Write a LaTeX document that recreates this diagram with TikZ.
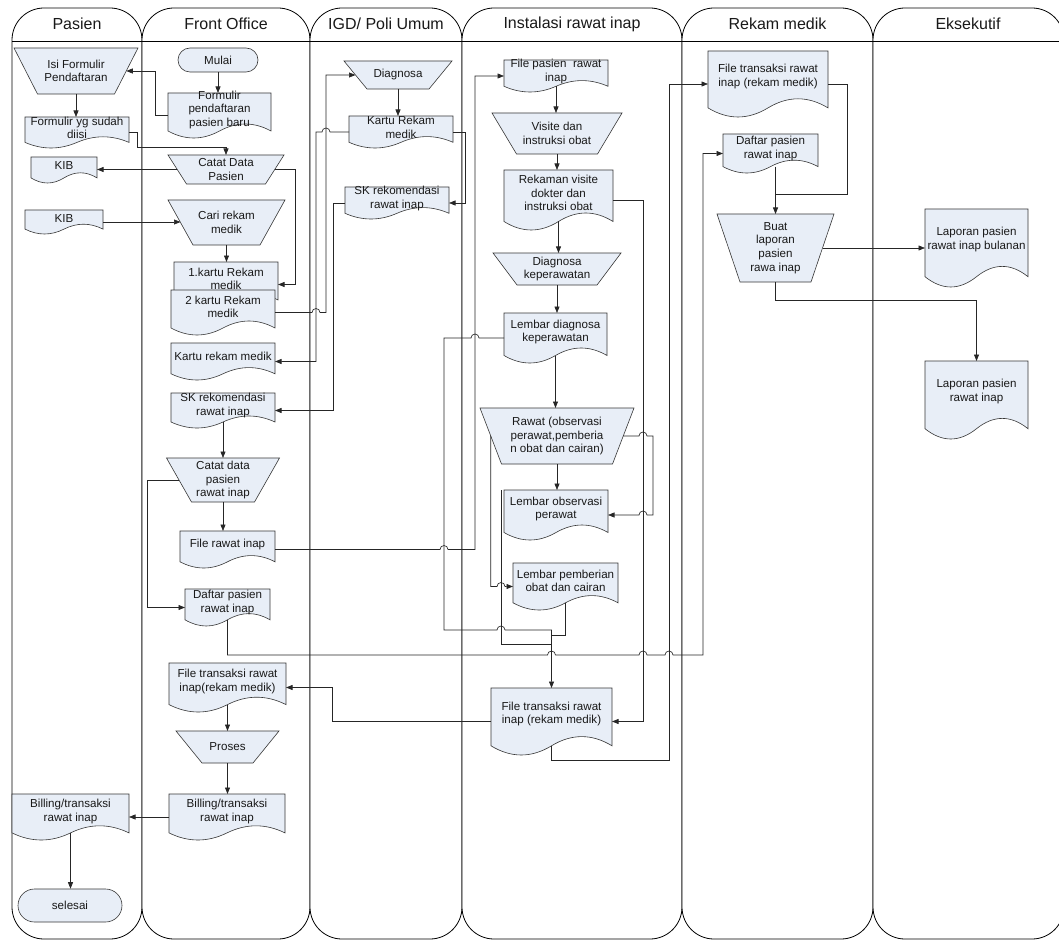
\documentclass[tikz,border=0pt]{standalone}
\usepackage{fontspec}
\setmainfont{Liberation Sans}
\usetikzlibrary{arrows.meta}
\definecolor{boxfill}{RGB}{232,238,247}
\definecolor{textcol}{RGB}{25,25,25}
\definecolor{edgecol}{RGB}{55,55,55}

\tikzset{
  lane/.style={draw=black, line width=0.8pt, fill=white, rounded corners=32pt},
  lanesep/.style={draw=black, line width=0.8pt},
  hdr/.style={font=\fontsize{16}{19}\selectfont, text=textcol},
  shapeline/.style={draw=edgecol, fill=boxfill, line width=0.6pt},
  anchorbox/.style={rectangle, draw=none, fill=none, inner sep=0pt, outer sep=0pt},
  boxtext/.style={font=\fontsize{11.6}{13.6}\selectfont, text=textcol, align=center, inner sep=0pt},
  conn/.style={draw=black!85, line width=0.65pt},
  arr/.style={conn, -{Triangle[length=6.5pt,width=5pt]}},
}

% document symbol: name, x1, y1, x2, y2 (bounding box), text
\newcommand\docnode[6]{%
  \pgfmathsetmacro\dnW{#4-#2}%
  \pgfmathsetmacro\dnH{#5-#3}%
  \pgfmathsetmacro\dnA{0.1*\dnH+2.5}%
  \pgfmathsetmacro\dnY{#5-\dnA}%
  \pgfmathsetmacro\dnUp{#5-2.333*\dnA}%
  \pgfmathsetmacro\dnDn{#5+0.333*\dnA}%
  \pgfmathsetmacro\dnCx{(#2+#4)/2}%
  \pgfmathsetmacro\dnCy{(#3+#5)/2}%
  \pgfmathsetmacro\dnS{0.8*\dnA}%
  \path[shapeline] (#2,#3) -- (#4,#3) -- (#4,\dnY)
    .. controls ({#2+5*\dnW/6},\dnUp) and ({#2+2*\dnW/3},\dnUp) .. (\dnCx,\dnY)
    .. controls ({#2+\dnW/3},\dnDn) and ({#2+\dnW/6},\dnDn) .. (#2,\dnY) -- cycle;
  \node[anchorbox, minimum width=\dnW pt, minimum height=\dnH pt,
        label={[boxtext, yshift=\dnS pt]center:{#6}}] (#1) at (\dnCx,\dnCy) {};
  \coordinate (#1-b) at (\dnCx,\dnY);
}

% manual operation: name, cx, y1, y2, top width, bottom width, text
\newcommand\manop[7]{%
  \pgfmathsetmacro\mopTL{#2-#5/2}%
  \pgfmathsetmacro\mopTR{#2+#5/2}%
  \pgfmathsetmacro\mopBL{#2-#6/2}%
  \pgfmathsetmacro\mopBR{#2+#6/2}%
  \pgfmathsetmacro\mopW{(#5+#6)/2}%
  \pgfmathsetmacro\mopH{#4-#3}%
  \pgfmathsetmacro\mopCy{(#3+#4)/2}%
  \path[shapeline] (\mopTL,#3) -- (\mopTR,#3) -- (\mopBR,#4) -- (\mopBL,#4) -- cycle;
  \node[anchorbox, boxtext, minimum width=\mopW pt, minimum height=\mopH pt] (#1) at (#2,\mopCy) {#7};
}

% terminator: name, x1, y1, x2, y2, text
\newcommand\termnode[6]{%
  \pgfmathsetmacro\tmW{#4-#2}%
  \pgfmathsetmacro\tmH{#5-#3}%
  \pgfmathsetmacro\tmR{(#5-#3)/2}%
  \pgfmathsetmacro\tmCx{(#2+#4)/2}%
  \pgfmathsetmacro\tmCy{(#3+#5)/2}%
  \node[shapeline, boxtext, rounded corners=\tmR pt, minimum width=\tmW pt,
        minimum height=\tmH pt] (#1) at (\tmCx,\tmCy) {#6};
}

\begin{document}
\begin{tikzpicture}[x=1pt, y=-1pt]
\useasboundingbox (0,0) rectangle (1059,941);
\clip (0,0) rectangle (1059,941);

% swimlanes
\foreach \xl/\xr in {12/142, 142/310, 310/462, 462/682, 682/873, 873/1064} {
  \draw[lane] (\xl,939) -- (\xl,8) -- (\xr,8) -- (\xr,939) -- cycle;
  \draw[lanesep] (\xl,41) -- (\xr,41);
}
\node[hdr] (hpas) at (77,24) {Pasien};
\node[hdr] (hfo) at (226,24) {Front Office};
\node[hdr] (higd) at (386,24) {IGD/ Poli Umum};
\node[hdr] (hri) at (572,24) {Instalasi rawat inap};
\node[hdr] (hrm) at (777.5,24) {Rekam medik};
\node[hdr] (hek) at (968,24) {Eksekutif};

% Pasien
\manop{isi}{76}{48}{94}{124}{77}{Isi Formulir\\Pendaftaran}
\docnode{formdiisi}{25}{117}{129}{148}{Formulir yg sudah\\diisi}
\docnode{kib1}{31}{157}{97}{183}{KIB}
\docnode{kib2}{25}{210}{103}{234}{KIB}
\docnode{billp}{12}{794}{129}{840}{Billing/transaksi\\rawat inap}
\termnode{selesai}{18}{889}{122}{922}{selesai}

% Front Office
\termnode{mulai}{178}{48}{258}{72}{Mulai}
\docnode{formbaru}{168}{93}{271}{138}{Formulir\\pendaftaran\\pasien baru}
\manop{catat1}{226}{155}{184}{116}{79}{Catat Data\\Pasien}
\manop{cari}{226.5}{200}{245}{117}{67}{Cari rekam\\medik}
\docnode{kr1}{174}{262}{278}{307}{1.kartu Rekam\\medik}
\docnode{kr2}{171}{290}{275}{335}{2 kartu Rekam\\medik}
\docnode{krfo}{171}{343}{275}{380}{Kartu rekam medik}
\docnode{skfo}{171}{393}{275}{428}{SK rekomendasi\\rawat inap}
\manop{catat2}{223}{458}{502}{113}{63}{Catat data\\pasien\\rawat inap}
\docnode{filerawat}{180}{531}{275}{568}{File rawat inap}
\docnode{daftarfo}{185}{589}{270}{626}{Daftar pasien\\rawat inap}
\docnode{ftfo}{169}{663}{286}{712}{File transaksi rawat\\inap(rekam medik)}
\manop{proses}{227.5}{731}{763}{103}{51}{Proses}
\docnode{billfo}{169}{794}{285}{840}{Billing/transaksi\\rawat inap}

% IGD / Poli Umum
\manop{diag}{398}{61}{89}{108}{62}{Diagnosa}
\docnode{kartuigd}{349}{116}{453}{148}{Kartu Rekam\\medik}
\docnode{skigd}{345}{187}{449}{219}{SK rekomendasi\\rawat inap}

% Instalasi rawat inap
\docnode{filepasien}{504}{60}{608}{92}{File pasien\ \ rawat\\inap}
\manop{visite}{557}{113}{154}{130}{81}{Visite dan\\instruksi obat}
\docnode{rekaman}{504}{170}{613}{230}{Rekaman visite\\dokter dan\\instruksi obat}
\manop{diagkep}{557}{253}{285}{128}{80}{Diagnosa\\keperawatan}
\docnode{lembardiag}{504}{313}{607}{363}{Lembar diagnosa\\keperawatan}
\manop{rawat}{557}{408}{464}{154}{111}{Rawat (observasi\\perawat,pemberia\\n obat dan cairan)}
\docnode{lembarobs}{504}{490}{608}{540}{Lembar observasi\\perawat}
\docnode{lembarpemb}{513}{563}{618}{610}{Lembar pemberian\\obat dan cairan}
\docnode{ftinst}{491}{688}{612}{755}{File transaksi rawat\\inap (rekam medik)}

% Rekam medik
\docnode{ftrm}{708}{51}{828}{117}{File transaksi rawat\\inap (rekam medik)}
\docnode{daftarrm}{723}{134}{818}{173}{Daftar pasien\\rawat inap}
\manop{buat}{775.5}{214}{282}{117}{71}{Buat\\laporan\\pasien\\rawa inap}

% Eksekutif
\docnode{lapbul}{925}{209}{1028}{287}{Laporan pasien\\rawat inap bulanan}
\docnode{laprawat}{925}{361}{1028}{439}{Laporan pasien\\rawat inap}

% flows: Pasien and Front Office
\draw[arr] (mulai.south) -- (mulai.south |- formbaru.north);
\draw[arr] (formbaru.west) -- ++(-13,0) |- (isi.east);
\draw[arr] (isi.south) -- (isi.south |- formdiisi.north);
\draw[arr] (formdiisi.east) -- ++(8,0) |- ([yshift=8pt]catat1.north) -- (catat1.north);
\draw[arr] (catat1.west) -- (kib1.east |- catat1.west);
\draw[arr] (catat1.east) -- ++(21,0) |- (kr1.east);
\draw[arr] (kib2.east) -- (cari.west |- kib2.east);
\draw[arr] (cari.south) -- (cari.south |- kr1.north);
\draw[arr] (skfo-b) -- (skfo-b |- catat2.north);
\draw[arr] (catat2.south) -- (catat2.south |- filerawat.north);
\draw[arr] (catat2.west) -- ++(-32,0) |- (daftarfo.west);
\draw[arr] (ftfo-b) -- (ftfo-b |- proses.north);
\draw[arr] (proses.south) -- (proses.south |- billfo.north);
\draw[arr] (billfo.west) -- (billp.east |- billfo.west);
\draw[arr] (billp-b) -- (billp-b |- selesai.north);

% flows: Front Office and IGD
\draw[arr] (kr2.east) -- (312,312.5) arc[start angle=180, end angle=0, radius=4pt]
  -- (326,312.5) |- (diag.west);
\draw[arr] (diag.south) -- (diag.south |- kartuigd.north);
\draw[arr] (kartuigd.west) -- (330,132) arc[start angle=0, end angle=180, radius=4pt]
  -- (316,132) |- (krfo.east);
\draw[arr] (kartuigd.east) -- ++(12,0) |- (skigd.east);
\draw[arr] (skigd.west) -- ++(-12,0) |- (skfo.east);

% flows: Instalasi rawat inap
\draw[arr] (filerawat.east) -- (440,549.5) arc[start angle=180, end angle=0, radius=4pt]
  -- (475,549.5) |- (filepasien.west);
\draw[arr] (filepasien-b) -- (filepasien-b |- visite.north);
\draw[arr] (visite.south) -- (visite.south |- rekaman.north);
\draw[arr] (rekaman-b) -- (rekaman-b |- diagkep.north);
\draw[arr] (diagkep.south) -- (diagkep.south |- lembardiag.north);
\draw[arr] (lembardiag-b) -- (lembardiag-b |- rawat.north);
\draw[arr] (rawat.south) -- (rawat.south |- lembarobs.north);
\draw[arr] (rawat.east) -- (639,436) arc[start angle=180, end angle=0, radius=4pt]
  -- (653,436) -- (653,515) -- (647,515) arc[start angle=0, end angle=180, radius=4pt]
  -- (lembarobs.east);
\draw[arr] (rawat.west) -- (rawat.west |- lembarpemb.west) -- (497,586.5)
  arc[start angle=180, end angle=0, radius=4pt] -- (lembarpemb.west);
\draw[arr] (lembardiag.west) -- (479,338) arc[start angle=0, end angle=180, radius=4pt]
  -- (444,338) -- (444,630) -- (497,630) arc[start angle=180, end angle=0, radius=4pt]
  -- (551.5,630) -- (ftinst.north);
\draw[conn] (lembarpemb-b) |- (551.5,635);
\draw[conn] ([xshift=-3pt]lembarobs.north west) -- (501,644) -- (551.5,644);
\draw[arr] (rekaman.east) -- ++(30,0) |- (ftinst.east);
\draw[arr] (ftinst.west) -- (332,721.5) |- (ftfo.east);
\draw[arr] (ftinst-b) |- (669,760) |- (ftrm.west);

% flows: Rekam medik and Eksekutif
\draw[arr] (daftarfo-b) |- (547.5,655) arc[start angle=180, end angle=0, radius=4pt]
  -- (639,655) arc[start angle=180, end angle=0, radius=4pt]
  -- (665,655) arc[start angle=180, end angle=0, radius=4pt]
  -- (703,655) |- (daftarrm.west);
\draw[conn] (ftrm.east) -- ++(19,0) |- (buat.north |- 0,194);
\draw[arr] (buat.north |- daftarrm-b) -- (buat.north);
\draw[arr] (buat.east) -- (lapbul.west |- buat.east);
\draw[arr] (buat.south) -- ++(0,18) -| (laprawat.north);
\end{tikzpicture}
\end{document}
